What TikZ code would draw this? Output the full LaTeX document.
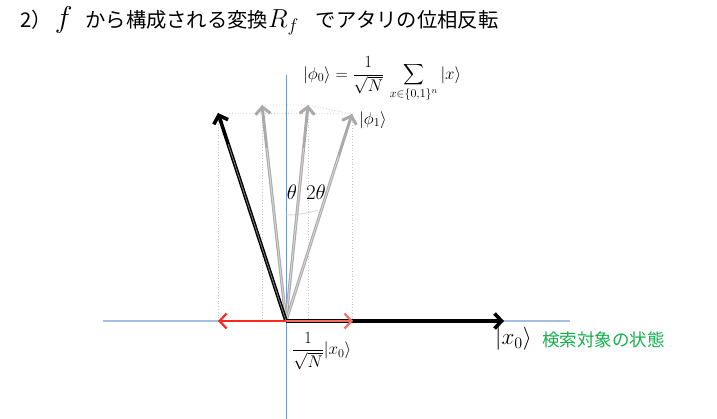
\RequirePackage{fix-cm}
\documentclass[tikz,border=0pt]{standalone}
\usepackage{fontspec}
\newfontfamily\jp{Noto Sans CJK JP}
\usetikzlibrary{arrows.meta,calc}
\definecolor{haxis}{RGB}{165,190,228}
\definecolor{vaxis}{RGB}{110,150,215}
\definecolor{greyarr}{RGB}{170,170,170}
\definecolor{greyin}{RGB}{215,215,215}
\definecolor{dotgrey}{RGB}{200,200,200}
\definecolor{redarr}{RGB}{250,40,30}
\definecolor{salmon}{RGB}{245,110,95}
\definecolor{jgreen}{RGB}{20,175,75}
\newcommand{\bigsum}{\mathop{\vcenter{\hbox{\scalebox{1.45}{$\displaystyle\sum$}}}}\limits}
\tikzset{
  chev/.style={-{Straight Barb[length=7pt,width=15pt]}},
  greyvec/.style={chev, draw=greyarr, line width=3pt},
  greycore/.style={draw=greyin, line width=0.9pt},
  blackvec/.style={chev, draw=black, line width=3.6pt},
  blackcore/.style={draw=gray, line width=0.8pt},
  guide/.style={draw=dotgrey, dotted, line width=0.8pt},
  lbl/.style={inner sep=0pt, font=\fontsize{23}{25}\selectfont},
  anglbl/.style={inner sep=0pt, font=\fontsize{21}{23}\selectfont},
  smalllbl/.style={inner sep=0pt, font=\fontsize{17}{19}\selectfont},
}
\begin{document}
\begin{tikzpicture}[x=1pt,y=-1pt]
\useasboundingbox (0,0) rectangle (717,419);
% coordinates
\coordinate (O) at (286,321);
\coordinate (B) at (218,113);
\coordinate (G1) at (262,105);
\coordinate (G2) at (308,105);
\coordinate (G3) at (352,114);
\coordinate (X) at (504,321);
\coordinate (RL) at (218,321);
\coordinate (RR) at (353,321);
\coordinate (HL) at (103,321);
\coordinate (HR) at (570,321);
\coordinate (VT) at (286,75);
\coordinate (VB) at (286,419);
% guides
\path[guide] (B) -- (B |- O);
\path[guide] (G1) -- (G1 |- O);
\path[guide] (G2) -- (G2 |- O);
\path[guide] (G3) -- (G3 |- O);
\path[guide] (B) -- (G3);
\path[guide] (G1) -- (G2) -- (G3);
% axes
\draw[haxis, line width=2pt] (HL) -- (HR);
\draw[vaxis, line width=0.9pt] (VT) -- (VB);
% angle arc
\draw[greyin, line width=0.9pt] (286,215) arc[start angle=90, end angle=72.3, radius=106];
% grey vectors
\foreach \t in {G1,G2,G3}{
  \draw[greyvec] (O) -- (\t);
  \draw[greycore] (O) -- ($(O)!0.8!(\t)$);
}
% black vectors
\draw[blackvec] (O) -- (B);
\draw[blackcore] (O) -- ($(O)!0.85!(B)$);
\draw[blackvec] (O) -- (X);
% red vectors
\draw[chev, redarr, line width=2.2pt] (O) -- (RL);
\draw[chev, salmon, line width=2.2pt] (O) -- (RR);
% labels
\node[anglbl] (th) at (292,192) {$\theta$};
\node[anglbl] (tth) at (316,192) {$2\theta$};
\node[smalllbl, anchor=west] (phi0) at (303,79) {$\displaystyle |\phi_0\rangle = \frac{1}{\sqrt{N}}\,\bigsum_{x\in\{0,1\}^n}|x\rangle$};
\node[smalllbl, anchor=west] (phi1) at (359,120) {$|\phi_1\rangle$};
\node[lbl, anchor=west] (x0) at (495,339) {$|x_0\rangle$};
\node[anchor=west, inner sep=0pt, text=jgreen, font=\jp\fontsize{17.5}{19}\selectfont] (tgt) at (542,340) {検索対象の状態};
\node[smalllbl, anchor=west] (amp) at (292,351) {$\displaystyle \frac{1}{\sqrt{N}}|x_0\rangle$};
\node[anchor=west, inner sep=0pt, font=\jp\fontsize{20.3}{22}\selectfont] (title) at (20,21) {2）\hspace{3pt}{\fontsize{30}{32}\selectfont$f$}\hspace{13pt}から構成される変換{\fontsize{26}{28}\selectfont$R_f$}\hspace{17pt}でアタリの位相反転};
\end{tikzpicture}
\end{document}
